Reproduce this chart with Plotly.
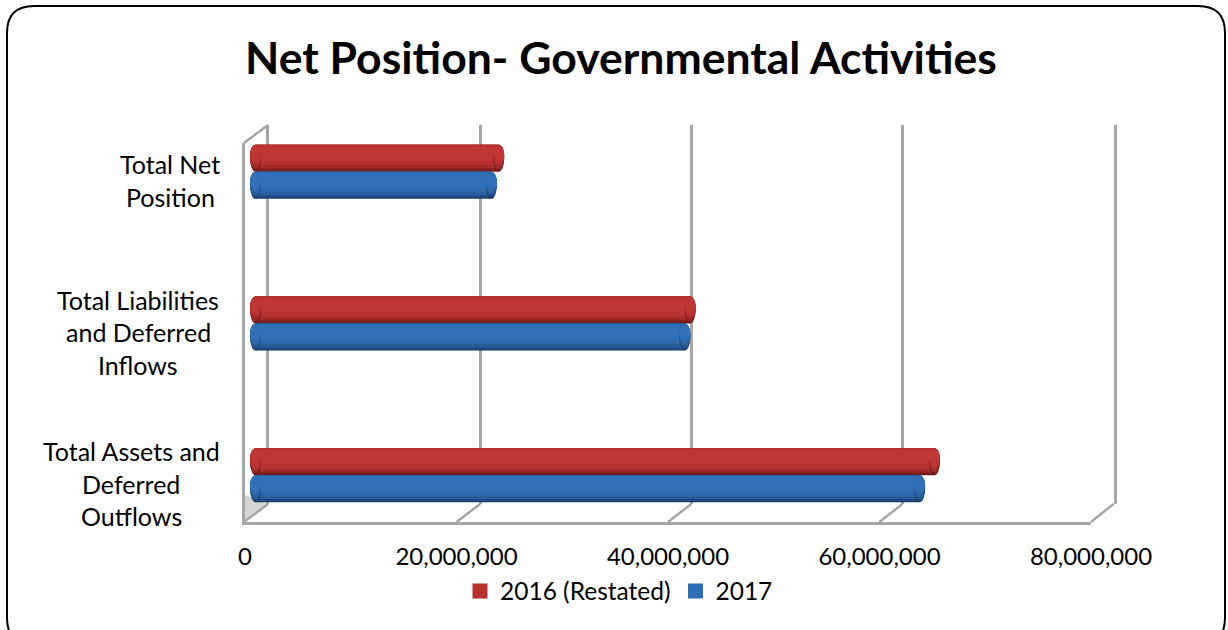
import plotly.graph_objects as go

W, H = 1228, 630
FONT = "Lato"

categories = ["Total Assets and<br>Deferred<br>Outflows",
              "Total Liabilities<br>and Deferred<br>Inflows",
              "Total Net<br>Position"]
series_2016 = [64200000, 41100000, 23000000]
series_2017 = [62800000, 40600000, 22300000]
tick_values = [0, 20000000, 40000000, 60000000, 80000000]
tick_labels = ["0", "20,000,000", "40,000,000", "60,000,000", "80,000,000"]
label_centres = [131, 138, 170]
AXIS_MAX = 80000000

RED = dict(name="2016 (Restated)", legend="#BA3331",
           bands=["#6E1A1A", "#8A2322", "#A42C2A", "#B83230", "#C03634"])
BLUE = dict(name="2017", legend="#2F6DB5",
            bands=["#1B3F6C", "#234F88", "#2A5F9F", "#2E6AB0", "#3071BA"])
BAND_LIMITS = [(0.0, 1.0), (0.06, 1.0), (0.14, 1.0), (0.25, 1.0), (0.40, 0.95)]
GRID = "#A6A6A6"
BAND = 27 / 151.5  # height of one cylinder in category units


def px(x):
    return x / W


def py(y):
    return 1 - y / H


FRONT = (245, 1091, 522, 143)
BACK = (269, 1113.5, 504, 125)
BARS = (255.5, 1101.5, 551, 96)
BAR_PAD = 12  # room left of zero so the rounded cylinder ends are not clipped
bar_min = -BAR_PAD / (BARS[1] - BARS[0]) * AXIS_MAX

fig = go.Figure()
# empty traces keep the front and back wall subplots alive
fig.add_trace(go.Scatter(x=[None], y=[None], xaxis="x", yaxis="y", showlegend=False))
fig.add_trace(go.Scatter(x=[None], y=[None], xaxis="x2", yaxis="y2", showlegend=False))

ypos = list(range(len(categories)))


def add_series(cfg, values, base):
    for colour, (lo, hi) in zip(cfg["bands"], BAND_LIMITS):
        fig.add_trace(go.Bar(
            y=ypos, x=values, orientation="h", name=cfg["name"],
            xaxis="x3", yaxis="y3", showlegend=False,
            width=BAND * (hi - lo), offset=base + BAND * lo,
            marker=dict(color=colour, line=dict(width=0)),
            hoverinfo="skip",
        ))
    fig.add_trace(go.Scatter(
        x=[None], y=[None], mode="markers", name=cfg["name"], xaxis="x3", yaxis="y3",
        marker=dict(symbol="square", size=15, color=cfg["legend"]), showlegend=True))


add_series(RED, series_2016, 0.0)
add_series(BLUE, series_2017, -BAND)

shapes = []
# rounded card
L, T, R, B, r = 7, 6, 1225, 645, 27
shapes.append(dict(
    type="path", xref="paper", yref="paper", layer="below",
    path=(f"M {px(L + r)} {py(T)} L {px(R - r)} {py(T)} Q {px(R)} {py(T)} {px(R)} {py(T + r)} "
          f"L {px(R)} {py(B - r)} Q {px(R)} {py(B)} {px(R - r)} {py(B)} "
          f"L {px(L + r)} {py(B)} Q {px(L)} {py(B)} {px(L)} {py(B - r)} "
          f"L {px(L)} {py(T + r)} Q {px(L)} {py(T)} {px(L + r)} {py(T)} Z"),
    line=dict(color="#000000", width=2), fillcolor="#FFFFFF"))


def line(x0, y0, x1, y1):
    shapes.append(dict(type="line", xref="paper", yref="paper", layer="below",
                       x0=px(x0), y0=py(y0), x1=px(x1), y1=py(y1),
                       line=dict(color=GRID, width=2.5)))


# floor wedge at the lower left
shapes.append(dict(type="path", xref="paper", yref="paper", layer="below",
                   path=f"M {px(245)} {py(521)} L {px(268)} {py(504)} L {px(245)} {py(495)} Z",
                   fillcolor="#D4D4D4", line=dict(width=0)))
for t in tick_values[1:]:
    fx = FRONT[0] + t / AXIS_MAX * (FRONT[1] - FRONT[0])
    bx = BACK[0] + t / AXIS_MAX * (BACK[1] - BACK[0])
    line(fx, FRONT[2], bx, BACK[2])
line(FRONT[0] - 1, FRONT[2], BACK[0] - 1, BACK[2])
line(FRONT[0] - 1, FRONT[3], BACK[0] - 1, BACK[3])


def add_caps(cfg, values, base):
    for y, v in zip(ypos, values):
        for anchor in (0, v):
            for colour, (lo, hi) in zip(cfg["bands"], BAND_LIMITS):
                shapes.append(dict(
                    type="circle", layer="above", xref="x3", yref="y3",
                    xsizemode="pixel", xanchor=anchor, x0=-5.5, x1=5.5,
                    y0=y + base + BAND * lo, y1=y + base + BAND * hi,
                    fillcolor=colour, line=dict(width=0)))


add_caps(RED, series_2016, 0.0)
add_caps(BLUE, series_2017, -BAND)

annotations = []
LINE_H = 32.5
for y, cat, cx in zip(ypos, categories, label_centres):
    parts = cat.split("<br>")
    for i, part in enumerate(parts):
        annotations.append(dict(
            xref="paper", yref="y3", x=px(cx), xanchor="center", y=y,
            yanchor="middle", text=part, showarrow=False,
            yshift=-8.5 - (i - (len(parts) - 1) / 2) * LINE_H,
            font=dict(family=FONT, size=25, color="#000000")))

hidden = dict(showgrid=False, zeroline=False, showticklabels=False, ticks="", showline=False)

fig.update_layout(
    width=W, height=H, autosize=False,
    margin=dict(l=0, r=0, t=0, b=0, autoexpand=False),
    paper_bgcolor="#FFFFFF", plot_bgcolor="rgba(0,0,0,0)",
    font=dict(family=FONT, size=24, color="#000000"),
    barmode="overlay",
    title=dict(text="<b>Net Position- Governmental Activities</b>",
               x=px(621), xanchor="center", y=py(58), yanchor="middle",
               font=dict(family=FONT, size=44.5, color="#000000")),
    legend=dict(orientation="h", x=px(619), xanchor="center", y=py(591), yanchor="middle",
                font=dict(family=FONT, size=24.5), bgcolor="rgba(0,0,0,0)", traceorder="normal"),
    showlegend=True,
    xaxis=dict(domain=[px(FRONT[0]), px(FRONT[1])], range=[0, AXIS_MAX], anchor="y",
               tickmode="array", tickvals=tick_values, ticktext=tick_labels,
               showgrid=False, zeroline=False, ticks="", ticklabelstandoff=11,
               showline=True, linecolor=GRID, linewidth=2.5,
               tickfont=dict(family=FONT, size=24, color="#000000")),
    yaxis=dict(domain=[py(FRONT[2]), py(FRONT[3])], range=[0, 1], anchor="x",
               showgrid=False, zeroline=False, showticklabels=False, ticks="",
               showline=True, linecolor=GRID, linewidth=2.5),
    xaxis2=dict(domain=[px(BACK[0]), px(BACK[1])], range=[0, AXIS_MAX], anchor="y2",
                tickmode="array", tickvals=tick_values, showticklabels=False, ticks="",
                showgrid=True, gridcolor=GRID, gridwidth=2.5, zeroline=False, showline=False),
    yaxis2=dict(domain=[py(BACK[2]), py(BACK[3])], range=[0, 1], anchor="x2",
                showgrid=False, zeroline=False, showticklabels=False, ticks="",
                showline=True, mirror=True, linecolor=GRID, linewidth=2.5),
    xaxis3=dict(domain=[px(BARS[0] - BAR_PAD), px(BARS[1])], range=[bar_min, AXIS_MAX],
                anchor="y3", **hidden),
    yaxis3=dict(domain=[py(BARS[2]), py(BARS[3])], range=[-0.5, 2.5], anchor="x3", **hidden),
    shapes=shapes, annotations=annotations,
)

fig.write_html("out.html", config=dict(displayModeBar=False),
               post_script="document.body.style.margin='0';document.body.style.overflow='hidden';")
